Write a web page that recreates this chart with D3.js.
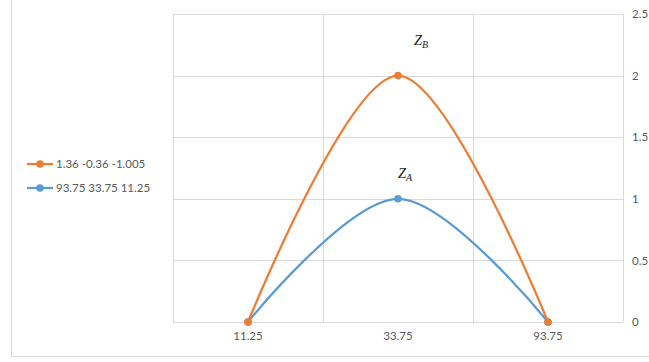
<!DOCTYPE html>
<html><head><meta charset="utf-8">
<script src="https://cdn.jsdelivr.net/npm/d3@7"></script>
<style>body{margin:0;background:#fff}svg{display:block}</style>
</head><body>
<svg id="c" width="649" height="362"></svg>
<script>
const categories = ["11.25", "33.75", "93.75"];
const seriesNames = ["1.36 -0.36 -1.005", "93.75 33.75 11.25"];
const seriesB = [0, 2, 0];
const seriesA = [0, 1, 0];
const yTicks = [0, 0.5, 1, 1.5, 2, 2.5];
const annotations = [{main:"Z", sub:"B", cat:"33.75", v:2.28}, {main:"Z", sub:"A", cat:"33.75", v:1.2}];

const svg = d3.select("#c");
const font = "Lato, 'Liberation Sans', sans-serif";
const L = 173, R = 623, T = 14, B = 322;
const x = d3.scaleBand().domain(categories).range([L, R]);
const y = d3.scaleLinear().domain([0, 2.5]).range([B, T]);
const grid = "#d9d9d9", txt = "#595959";

// outer chart border
svg.append("rect").attr("x", 11.5).attr("y", -10).attr("width", 800).attr("height", 366.5)
  .attr("fill", "none").attr("stroke", grid).attr("stroke-width", 1);

// horizontal gridlines
svg.append("g").selectAll("line").data(yTicks.slice(1)).join("line")
  .attr("x1", L).attr("x2", R).attr("y1", d => Math.round(y(d)) + 0.5).attr("y2", d => Math.round(y(d)) + 0.5)
  .attr("stroke", grid);
// vertical gridlines at category boundaries
const bounds = categories.map(c => x(c)).concat([R]);
svg.append("g").selectAll("line").data(bounds).join("line")
  .attr("x1", d => Math.round(d) + 0.5).attr("x2", d => Math.round(d) + 0.5).attr("y1", T).attr("y2", B)
  .attr("stroke", grid);
// baseline axis
svg.append("line").attr("x1", L).attr("x2", R).attr("y1", B + 0.5).attr("y2", B + 0.5).attr("stroke", grid);

// right y axis labels
const yAxis = d3.axisRight(y).tickValues(yTicks).tickSize(0).tickPadding(0).tickFormat(d3.format("~g"));
const ya = svg.append("g").attr("transform", `translate(${R + 9},0)`).call(yAxis);
ya.select(".domain").remove();
ya.selectAll("text").attr("font-family", font).attr("font-size", 11.5).attr("fill", txt);

// x axis labels
const xAxis = d3.axisBottom(x).tickSize(0).tickPadding(0);
const xa = svg.append("g").attr("transform", `translate(0,${B + 10})`).call(xAxis);
xa.select(".domain").remove();
xa.selectAll("text").attr("font-family", font).attr("font-size", 11.5).attr("fill", txt);

const cx = c => x(c) + x.bandwidth() / 2;
const line = d3.line().x((d, i) => cx(categories[i])).y(d => y(d)).curve(d3.curveCatmullRom.alpha(0));
const series = [{name: seriesNames[1], vals: seriesA, color: "#5b9bd5"},
                {name: seriesNames[0], vals: seriesB, color: "#ed7d31"}];
series.forEach(s => {
  svg.append("path").attr("d", line(s.vals)).attr("fill", "none").attr("stroke", s.color)
    .attr("stroke-width", 2.25).attr("stroke-linecap", "round");
  svg.append("g").selectAll("circle").data(s.vals).join("circle")
    .attr("cx", (d, i) => cx(categories[i])).attr("cy", d => y(d)).attr("r", 3.8).attr("fill", s.color);
});

// annotations
annotations.forEach(a => {
  const t = svg.append("text").attr("x", cx(a.cat) + (a.sub === "B" ? 16 : 0)).attr("y", y(a.v) + 4)
    .attr("font-family", "'Liberation Serif', 'DejaVu Serif', serif").attr("font-style", "italic")
    .attr("font-size", 14.5).attr("fill", "#222");
  t.append("tspan").text(a.main);
  t.append("tspan").attr("dy", 3).attr("font-size", 10).text(a.sub);
});

// legend
const leg = [{name: seriesNames[0], color: "#ed7d31"}, {name: seriesNames[1], color: "#5b9bd5"}];
const lg = svg.append("g").selectAll("g").data(leg).join("g")
  .attr("transform", (d, i) => `translate(27,${164 + i * 24})`);
lg.append("line").attr("x1", 0).attr("x2", 26).attr("stroke", d => d.color).attr("stroke-width", 2.25);
lg.append("circle").attr("cx", 13).attr("r", 3.8).attr("fill", d => d.color);
lg.append("text").attr("x", 29).attr("y", 4).text(d => d.name)
  .attr("font-family", font).attr("font-size", 11.5).attr("fill", txt);
</script>
</body></html>
